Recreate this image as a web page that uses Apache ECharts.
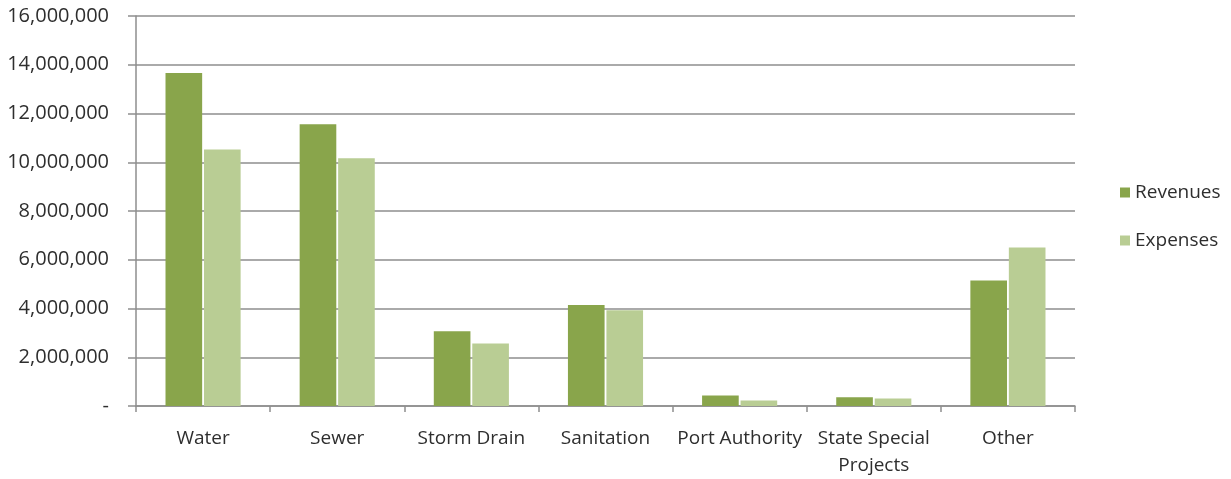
<!DOCTYPE html>
<html>
<head>
<meta charset="utf-8">
<script src="https://cdn.jsdelivr.net/npm/echarts@6/dist/echarts.min.js"></script>
<style>
html,body{margin:0;padding:0;background:#fff;overflow:hidden;}
#chart{width:1231px;height:479px;}
</style>
</head>
<body>
<div id="chart"></div>
<script>
const categories = ['Water', 'Sewer', 'Storm Drain', 'Sanitation', 'Port Authority', 'State Special\nProjects', 'Other'];
const revenues = [13660000, 11560000, 3070000, 4140000, 430000, 360000, 5150000];
const expenses = [10520000, 10160000, 2560000, 3930000, 230000, 310000, 6500000];
const yTicks = { min: 0, max: 16000000, interval: 2000000 };

const font = 'Open Sans';
const textColor = '#2e2e2e';
const lineColor = '#8e8e8e';

const chart = echarts.init(document.getElementById('chart'));
chart.setOption({
  animation: false,
  textStyle: { fontFamily: font },
  grid: { left: 136, right: 156, top: 16, bottom: 67, containLabel: false },
  legend: {
    orient: 'vertical',
    left: 1115,
    top: 178,
    itemWidth: 10,
    itemHeight: 10,
    itemGap: 29,
    icon: 'rect',
    textStyle: { fontSize: 19, color: textColor, fontFamily: font, padding: [0, 0, 0, 0] },
    data: ['Revenues', 'Expenses']
  },
  xAxis: {
    type: 'category',
    data: categories,
    axisLine: { show: true, lineStyle: { color: lineColor, width: 1.5 } },
    axisTick: { show: true, length: 6, inside: false, lineStyle: { color: lineColor, width: 1.5 } },
    axisLabel: { fontSize: 19, color: textColor, margin: 19, lineHeight: 27, interval: 0 }
  },
  yAxis: {
    type: 'value',
    min: yTicks.min,
    max: yTicks.max,
    interval: yTicks.interval,
    axisLine: { show: true, lineStyle: { color: lineColor, width: 1.5 } },
    axisTick: { show: true, length: 8, lineStyle: { color: lineColor, width: 1.5 } },
    splitLine: { show: true, lineStyle: { color: lineColor, width: 1.5 } },
    axisLabel: {
      fontSize: 20,
      color: textColor,
      margin: 27,
      formatter: function (v) { return v === 0 ? '-' : v.toLocaleString('en-US'); }
    }
  },
  series: [
    {
      name: 'Revenues', type: 'bar', data: revenues,
      barGap: '5%', barCategoryGap: '44%',
      itemStyle: { color: '#89a54b' }
    },
    {
      name: 'Expenses', type: 'bar', data: expenses,
      itemStyle: { color: '#b9cd94' }
    }
  ]
});
</script>
</body>
</html>
